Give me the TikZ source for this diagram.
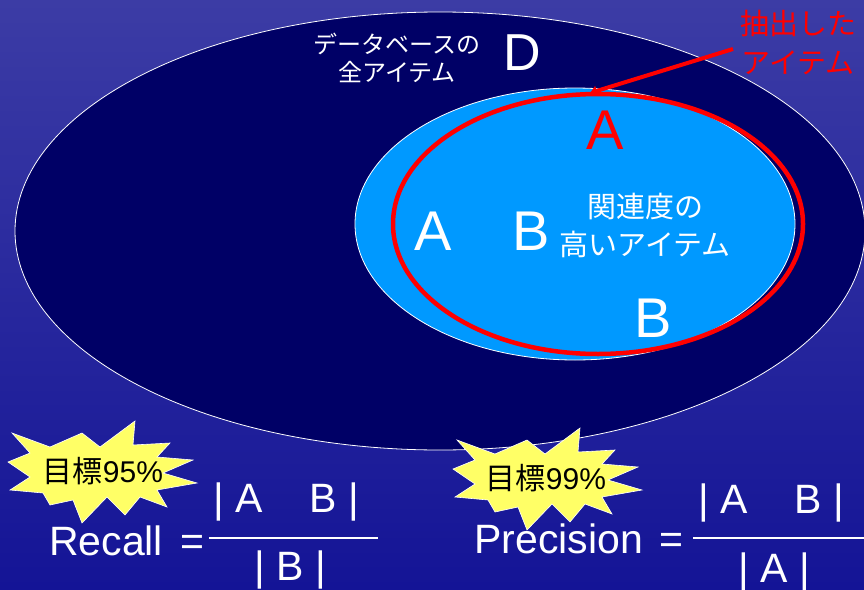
\documentclass[tikz,border=0pt]{standalone}
\usepackage{fontspec}
\setmainfont{Liberation Sans}
\newfontfamily\jp{Noto Sans CJK JP}
\usetikzlibrary{shapes.geometric,arrows.meta}
\definecolor{bgtop}{RGB}{60,60,165}
\definecolor{bgmid}{RGB}{118,118,202}
\definecolor{bgbot}{RGB}{20,20,150}
\definecolor{navyfill}{RGB}{0,0,102}
\definecolor{skyfill}{RGB}{0,153,255}
\definecolor{burstfill}{RGB}{255,255,102}
\begin{document}
\begin{tikzpicture}[x=1pt,y=-1pt,
  set/.style={ellipse, inner sep=0pt, outer sep=0pt},
  bigletter/.style={text=white, font=\fontsize{56}{60}\selectfont, inner sep=0pt},
  jptext/.style={align=center, inner sep=0pt},
  formula/.style={text=white, font=\fontsize{41}{45}\selectfont, inner sep=0pt, anchor=base},
  burst/.style={fill=burstfill, draw=white, line width=0.6pt, line join=miter},
  bursttext/.style={font=\fontsize{30}{34}\selectfont, inner sep=0pt},
  fracbar/.style={draw=white, line width=2pt}]
\useasboundingbox (0,0) rectangle (864,589);
\shade[top color=bgtop, middle color=bgmid, bottom color=bgbot] (0,0) rectangle (864,589);
% sets
\node[set, fill=navyfill, draw=white, line width=0.8pt, minimum width=850pt, minimum height=438pt] (D) at (440,231) {};
\node[set, fill=skyfill, draw=white, line width=0.8pt, minimum width=440pt, minimum height=272pt] (rel) at (575,224) {};
\node[set, draw=red, line width=4.5pt, minimum width=410pt, minimum height=260pt] (ext) at (598,224) {};
% labels
\node[jptext, text=white, font=\jp\fontsize{24}{28}\selectfont] (dbl) at (397,58) {データベースの\\全アイテム};
\node[bigletter, font=\fontsize{52}{56}\selectfont] (Dl) at (522,53) {D};
\node[jptext, text=red, font=\jp\fontsize{29}{39}\selectfont] (exl) at (798,43) {抽出した\\アイテム};
\node[bigletter, text=red] (rA) at (605,130) {A};
\node[bigletter] (wA) at (433,231) {A};
\node[bigletter] (wB) at (531,231) {B};
\node[bigletter] (bB) at (653,318) {B};
\node[jptext, text=white, font=\jp\fontsize{29}{38}\selectfont] (rell) at (645,225) {関連度の\\高いアイテム};
% arrow
\coordinate (as) at (733,49);
\coordinate (ae) at (590,93);
\draw[red, line width=4pt, -{Triangle[length=7pt,width=10pt]}] (as) -- (ae);
% starbursts
\draw[burst] (12,433) -- (50,447) -- (82,433) -- (100,447) -- (135,421) -- (133,445) -- (170,443) -- (157,457) -- (193,460) -- (163,473) -- (197,483) -- (157,490) -- (167,507) -- (140,497) -- (125,515) -- (107,497) -- (82,523) -- (73,500) -- (50,505) -- (43,493) -- (10,490) -- (30,477) -- (8,462) -- (30,453) -- cycle;
\begin{scope}[shift={(445,7)}]
\draw[burst] (12,433) -- (50,447) -- (82,433) -- (100,447) -- (135,421) -- (133,445) -- (170,443) -- (157,457) -- (193,460) -- (163,473) -- (197,483) -- (157,490) -- (167,507) -- (140,497) -- (125,515) -- (107,497) -- (82,523) -- (73,500) -- (50,505) -- (43,493) -- (10,490) -- (30,477) -- (8,462) -- (30,453) -- cycle;
\end{scope}
\node[bursttext] (g1) at (103,471) {{\jp 目標}95\%};
\node[bursttext] (g2) at (546,478) {{\jp 目標}99\%};
% recall
\node[formula, anchor=base west] (rc) at (49,555) {Recall};
\node[formula] (rceq) at (192,555) {=};
\coordinate (rb1) at (209,538);
\coordinate (rb2) at (378,538);
\draw[fracbar] (rb1) -- (rb2);
\node[formula] (rnum) at (286,512) {| A\hspace{47pt}B |};
\node[formula] (rden) at (290,580) {| B |};
% precision
\node[formula, anchor=base west] (pr) at (474,553) {Precision};
\node[formula] (preq) at (671,553) {=};
\coordinate (pb1) at (693,538);
\coordinate (pb2) at (864,538);
\draw[fracbar] (pb1) -- (pb2);
\node[formula] (pnum) at (771,513) {| A\hspace{47pt}B |};
\node[formula] (pden) at (774,582) {| A |};
\end{tikzpicture}
\end{document}
